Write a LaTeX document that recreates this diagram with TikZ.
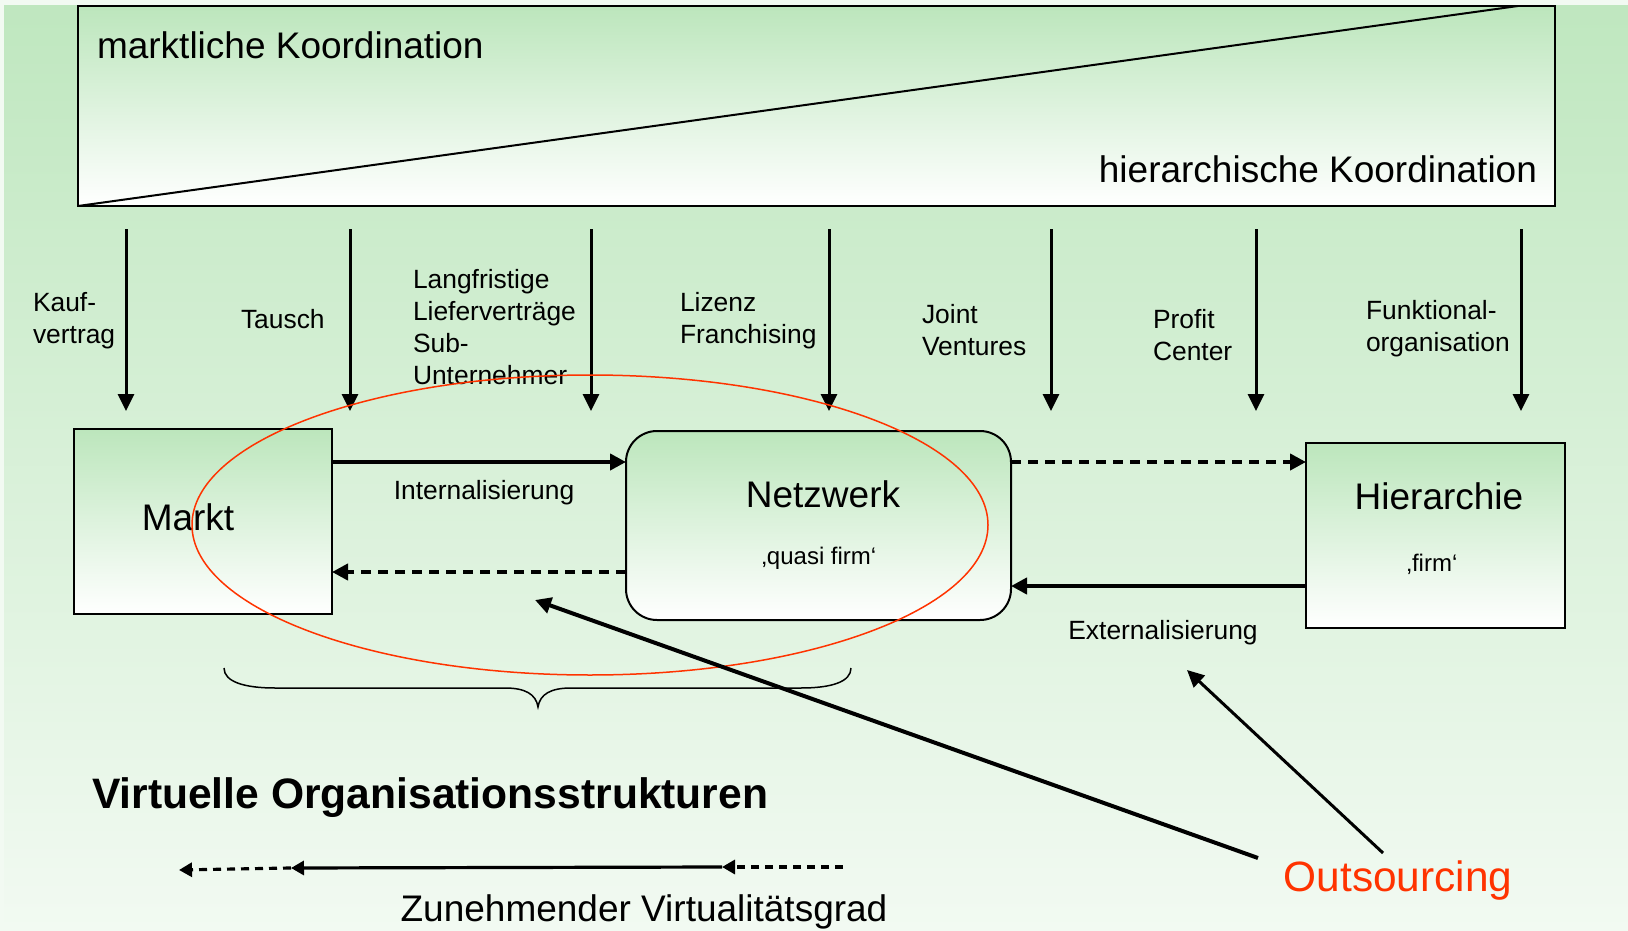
\documentclass[tikz,border=0pt]{standalone}
\usepackage{fontspec}
\setmainfont{Liberation Sans}
\usetikzlibrary{arrows.meta,shapes.geometric}
\definecolor{bgtop}{HTML}{BFE7BF}
\definecolor{bgbot}{HTML}{F2FAF2}
\definecolor{boxtop}{HTML}{BCE6BC}
\definecolor{outred}{HTML}{FF3300}
\begin{document}
\begin{tikzpicture}[x=0.5pt,y=-0.5pt,
  every node/.style={inner sep=0pt, outer sep=0pt},
  gbox/.style={draw=black, line width=1pt, top color=boxtop, bottom color=white},
  big/.style={font=\fontsize{18.5}{22}\selectfont},
  small/.style={font=\fontsize{13.2}{16.1}\selectfont, align=left, anchor=west},
  tiny/.style={font=\fontsize{12}{14}\selectfont},
  down/.style={line width=1.5pt, -{Triangle[length=8.5pt,width=8pt]}},
  flow/.style={line width=2pt, -{Triangle[length=8pt,width=8pt]}},
  dashflow/.style={flow, dash pattern=on 5pt off 3.5pt},
  vflow/.style={line width=1.6pt, -{Triangle[length=6.5pt,width=7pt]}},
  vdash/.style={vflow, dash pattern=on 4pt off 3pt},
]
\useasboundingbox (0,0) rectangle (1628,931);
\shade[top color=bgtop, bottom color=bgbot] (0,0) rectangle (1628,931);
\fill[bgbot] (0,0) rectangle (1628,5);
\fill[bgbot] (0,0) rectangle (4,931);

% top box
\node[draw, line width=1pt, top color=boxtop, bottom color=white,
      minimum width=738.5pt, minimum height=100pt] (topbox) at (816.5,106) {};
\coordinate (diag) at (1518,6);
\draw[line width=1pt] (topbox.south west) -- (diag);
\node[big, anchor=west] (mk) at (97,45) {marktliche Koordination};
\node[big, anchor=east] (hk) at (1537,169) {hierarchische Koordination};

% vertical arrows
\foreach \x [count=\i] in {126,350,591,829,1051,1256,1521}{
  \coordinate (t\i) at (\x,229);
  \coordinate (b\i) at (\x,411);
  \draw[down] (t\i) -- (b\i);
}
\node[small] (l1) at (33,321) {Kauf-\\vertrag};
\node[small] (l2) at (241,319) {Tausch};
\node[small] (l3) at (413,327) {Langfristige\\Lieferverträge\\Sub-\\Unternehmer};
\node[small] (l4) at (680,321) {Lizenz\\Franchising};
\node[small] (l5) at (922,330) {Joint\\Ventures};
\node[small] (l6) at (1153,335) {Profit\\Center};
\node[small] (l7) at (1366,329) {Funktional-\\organisation};

% boxes
\node[gbox, minimum width=129pt, minimum height=92.5pt] (markt) at (203,521.5) {};
\node[gbox, rounded corners=15.5pt, minimum width=192.5pt, minimum height=94.5pt] (netz) at (818.5,525.5) {};
\node[gbox, minimum width=129.5pt, minimum height=92.5pt] (hier) at (1435.5,535.5) {};

\node[big] (marktt) at (188,517) {Markt};
\node[big] (netzt) at (823,494) {Netzwerk};
\node[tiny] (netzs) at (819,558) {‚quasi firm‘};
\node[big] (hiert) at (1439,496) {Hierarchie};
\node[tiny] (hiers) at (1432,564) {‚firm‘};

% flows between boxes
\draw[flow] (markt.east |- 0,462) -- (netz.west |- 0,462);
\node[small, anchor=center] (int) at (484,493) {Internalisierung};
\draw[dashflow] (netz.west |- 0,572) -- (markt.east |- 0,572);
\draw[dashflow] (netz.east |- 0,462) -- (hier.west |- 0,462);
\draw[flow] (hier.west |- 0,586) -- (netz.east |- 0,586);
\node[small, anchor=center] (ext) at (1163,633) {Externalisierung};

% red ellipse
\node[ellipse, draw=outred, line width=0.75pt, minimum width=398pt, minimum height=150pt] (oval) at (590,525) {};

% brace
\draw[line width=0.75pt] (224,668) .. controls (224,682) and (245,688) .. (275,688) -- (505,688)
  .. controls (525,688) and (536,694) .. (538,707)
  .. controls (540,694) and (551,688) .. (571,688) -- (801,688)
  .. controls (831,688) and (851,682) .. (851,668);

\node[font=\bfseries\fontsize{21.3}{25}\selectfont, anchor=west] (vos) at (92,798) {Virtuelle Organisationsstrukturen};

% bottom arrows
\coordinate (z0) at (843,867);
\coordinate (z1) at (722,867);
\coordinate (z2) at (291,868);
\coordinate (z3) at (179,870);
\draw[vdash] (z0) -- (z1);
\draw[vflow] (z1) -- (z2);
\draw[vdash] (z2) -- (z3);
\node[big] (zv) at (644,912) {Zunehmender Virtualitätsgrad};

% outsourcing
\node[font=\fontsize{21.2}{25}\selectfont, text=outred] (outs) at (1398,881) {Outsourcing};
\coordinate (o1s) at (1258,858);
\coordinate (o1e) at (535,600);
\coordinate (o2s) at (1383,853);
\coordinate (o2e) at (1187,670);
\draw[flow] (o1s) -- (o1e);
\draw[down] (o2s) -- (o2e);
\end{tikzpicture}
\end{document}
